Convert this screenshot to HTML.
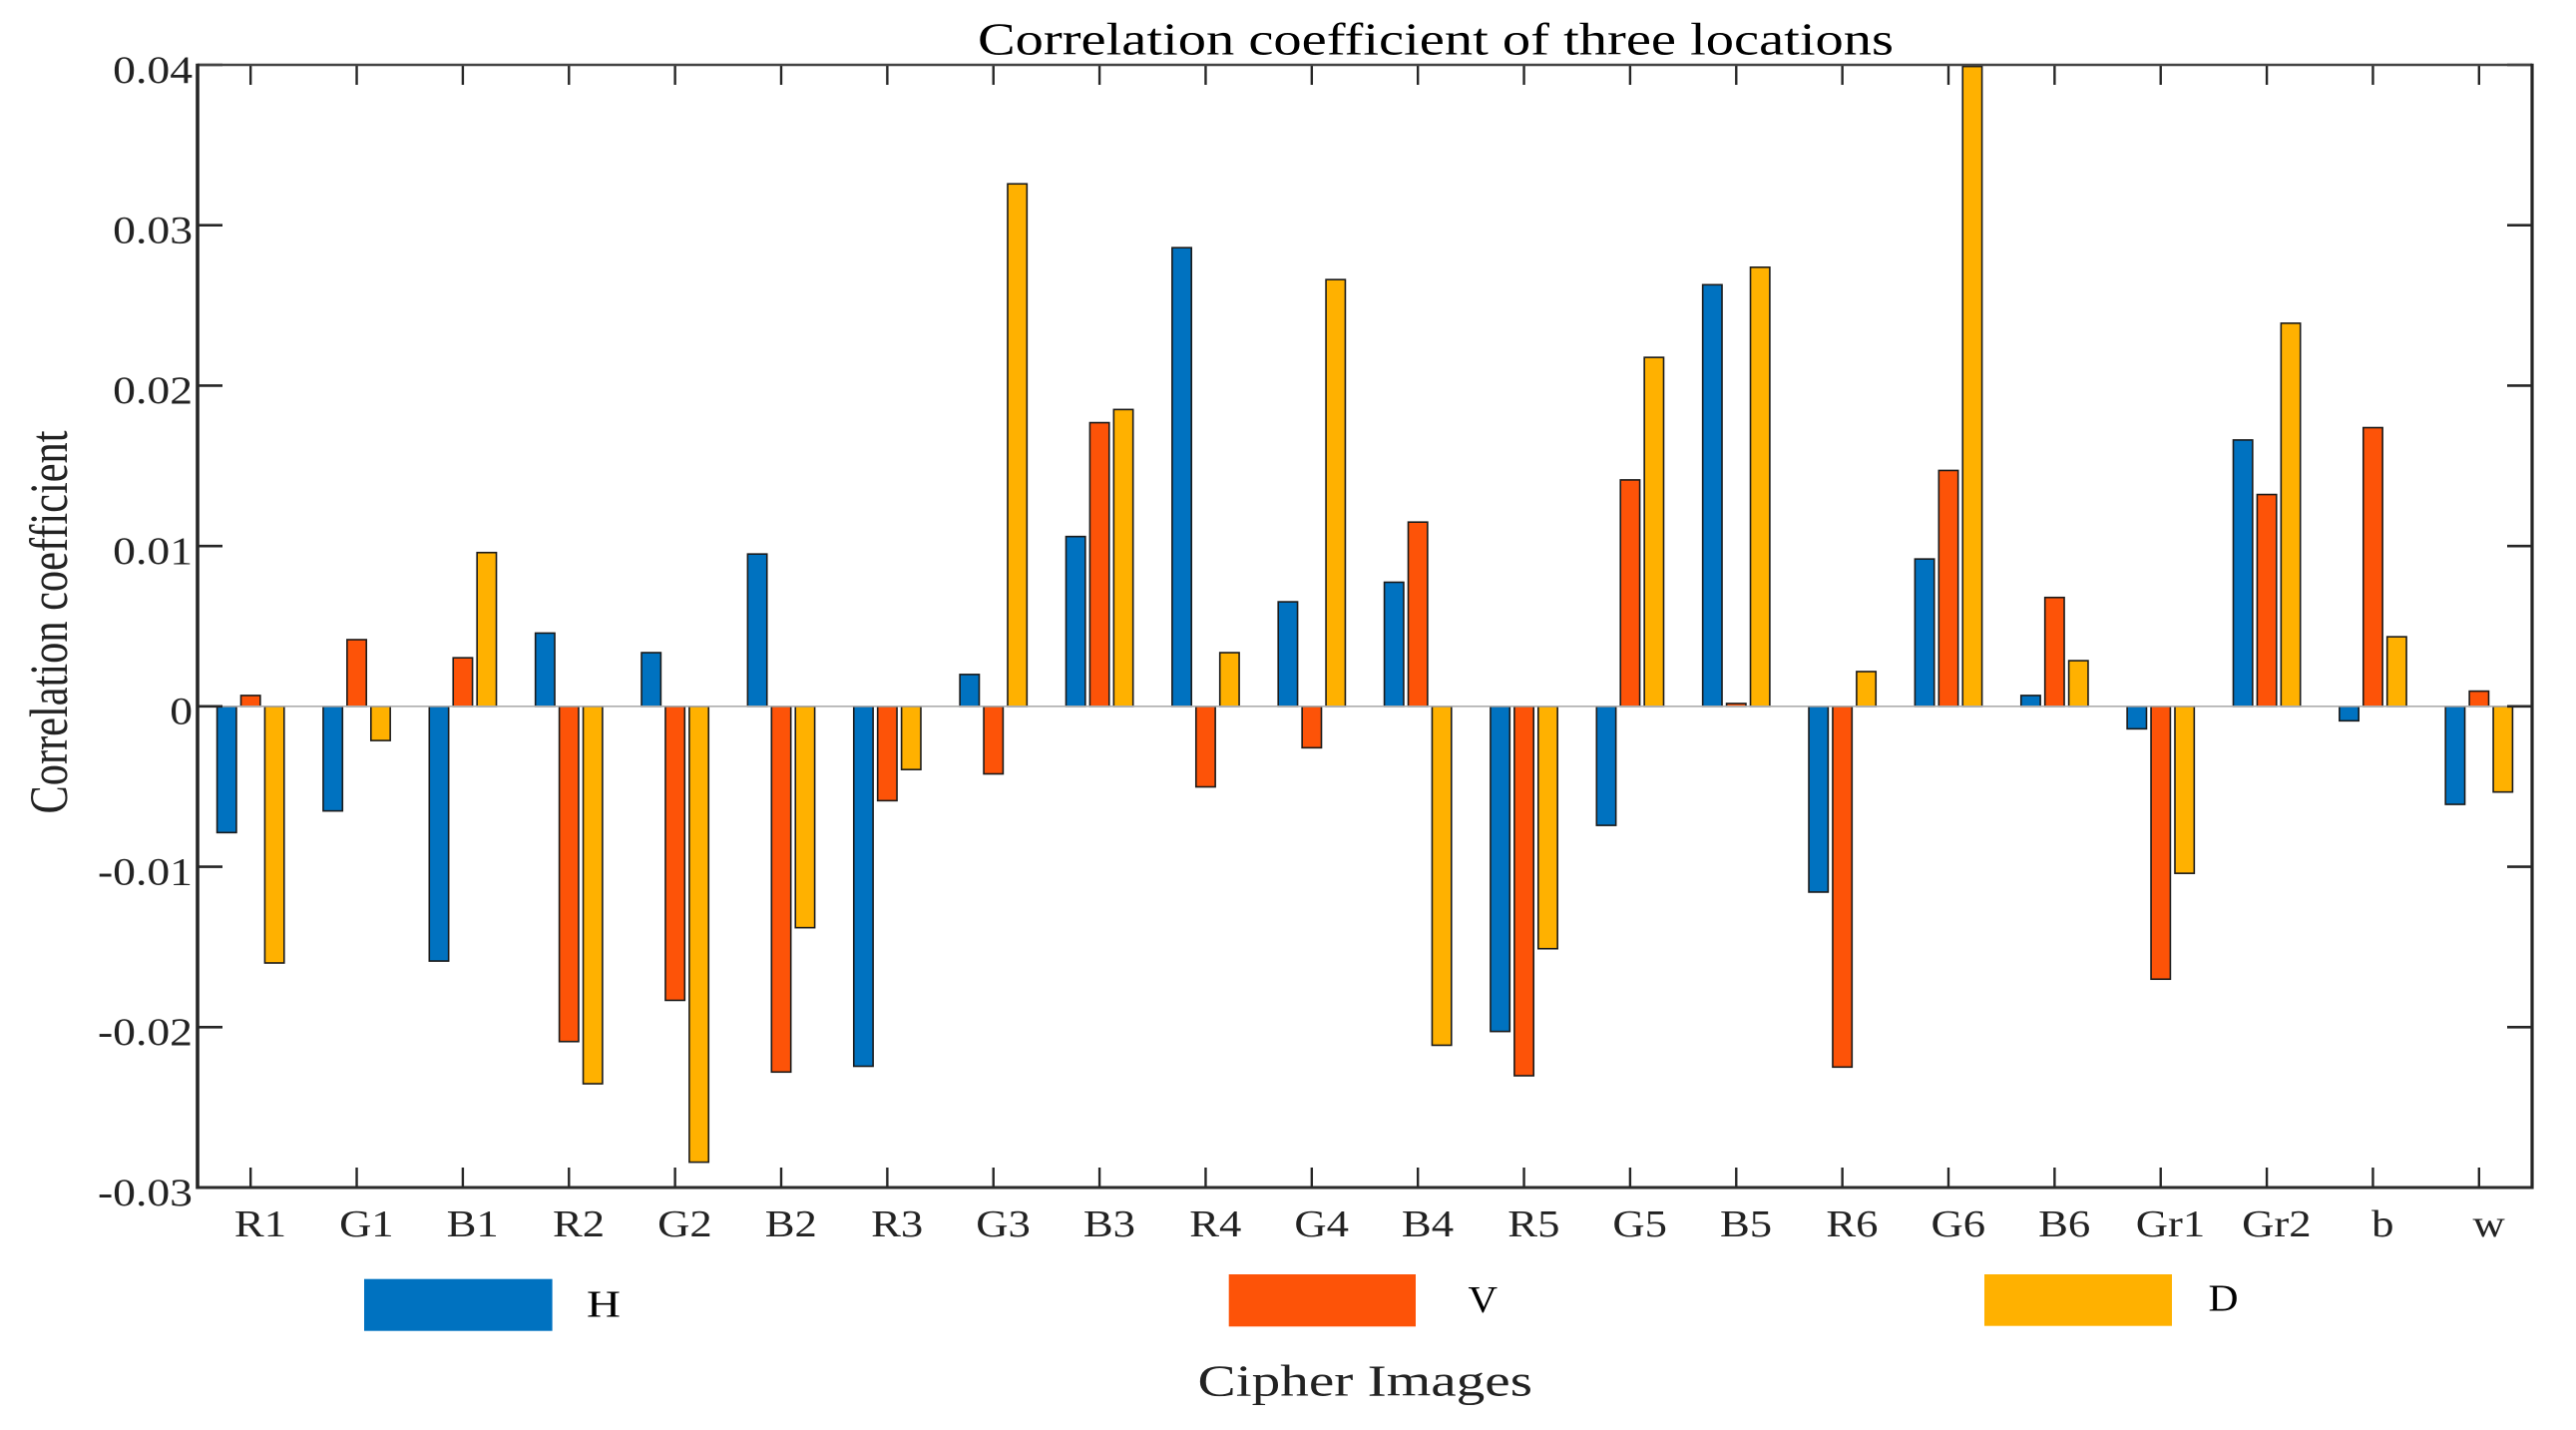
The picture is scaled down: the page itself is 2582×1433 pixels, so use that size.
<!DOCTYPE html>
<html lang="en">
<head>
<meta charset="utf-8">
<title>Correlation coefficient of three locations</title>
<style>
html,body{margin:0;padding:0;background:#fff;}
svg{display:block;}
text{font-family:"Liberation Serif",serif;}
</style>
</head>
<body>
<svg id="chart" xmlns="http://www.w3.org/2000/svg" width="2582" height="1433" viewBox="0 0 2582 1433">
  <rect x="0" y="0" width="2582" height="1433" fill="#ffffff"/>
  <text x="980" y="54.5" font-size="46" fill="#000" textLength="918" lengthAdjust="spacingAndGlyphs">Correlation coefficient of three locations</text>
  <text transform="translate(67,815.5) rotate(-90)" font-size="54" fill="#222" textLength="384" lengthAdjust="spacingAndGlyphs">Correlation coefficient</text>
  <text x="1200.5" y="1398.5" font-size="44" fill="#222" textLength="335.5" lengthAdjust="spacingAndGlyphs">Cipher Images</text>
  <g id="bars"></g>
  <g id="axes"></g>
  <g>
    <g>
      <rect x="365" y="1281.7" width="188.6" height="52" fill="#0072C0"/>
      <text x="588" y="1319.3" font-size="38" fill="#000" textLength="34" lengthAdjust="spacingAndGlyphs">H</text>
    </g>
    <g>
      <rect x="1231.7" y="1277" width="187.3" height="52.3" fill="#FD5308"/>
      <text x="1471.5" y="1315" font-size="38" fill="#000" textLength="29.5" lengthAdjust="spacingAndGlyphs">V</text>
    </g>
    <g>
      <rect x="1989" y="1277" width="188" height="51.7" fill="#FFB100"/>
      <text x="2213.5" y="1313.5" font-size="38" fill="#000" textLength="30" lengthAdjust="spacingAndGlyphs">D</text>
    </g>
  </g>
</svg>
<script>
const categories = ['R1','G1','B1','R2','G2','B2','R3','G3','B3','R4','G4','B4','R5','G5','B5','R6','G6','B6','Gr1','Gr2','b','w'];
const seriesH = [-0.00787,-0.00652,-0.01588,0.00457,0.00335,0.0095,-0.02244,0.00199,0.01059,0.0286,0.00652,0.00774,-0.02027,-0.00742,0.02629,-0.01158,0.00919,0.00068,-0.0014,0.01661,-0.0009,-0.00611];
const seriesV = [0.00068,0.00416,0.00303,-0.0209,-0.01833,-0.0228,-0.00588,-0.00421,0.01769,-0.00502,-0.00258,0.01149,-0.02303,0.01412,0.00018,-0.02249,0.01471,0.00679,-0.01701,0.01321,0.01738,0.00095];
const seriesD = [-0.016,-0.00213,0.00959,-0.02353,-0.02842,-0.0138,-0.00394,0.03258,0.01851,0.00335,0.02661,-0.02113,-0.01511,0.02176,0.02738,0.00217,0.0399,0.00285,-0.01041,0.02389,0.00434,-0.00534];
const yTickValues = [-0.03,-0.02,-0.01,0,0.01,0.02,0.03,0.04];
const yTickLabels = ['-0.03','-0.02','-0.01','0','0.01','0.02','0.03','0.04'];

const NS = 'http://www.w3.org/2000/svg';
const plot = {left: 198, right: 2538, top: 65, bottom: 1190};
const yMin = -0.03, yMax = 0.04;
const barColors = ['#0072C0', '#FD5308', '#FFB100'];
const barNames = ['h', 'v', 'd'];
const allSeries = [seriesH, seriesV, seriesD];

function xScale(index) {
  const step = (plot.right - plot.left) / categories.length;
  return plot.left + step * (index + 0.5);
}
function yScale(value) {
  return plot.bottom - (value - yMin) / (yMax - yMin) * (plot.bottom - plot.top);
}
function make(tag, attrs, parent) {
  const el = document.createElementNS(NS, tag);
  for (const key in attrs) el.setAttribute(key, attrs[key]);
  parent.appendChild(el);
  return el;
}

const barsGroup = document.getElementById('bars');
const axesGroup = document.getElementById('axes');
const barStep = (plot.right - plot.left) / categories.length * 0.225;
const barWidth = (plot.right - plot.left) / categories.length * 0.182;

allSeries.forEach(function (values, s) {
  values.forEach(function (value, i) {
    const cx = xScale(i) + (s - 1) * barStep;
    const y0 = yScale(0);
    const y1 = yScale(value);
    const bar = make('rect', {
      x: cx - barWidth / 2,
      y: Math.min(y0, y1),
      width: barWidth,
      height: Math.abs(y1 - y0),
      fill: barColors[s],
      stroke: '#1a1a1a',
      'stroke-width': 1.6
    }, barsGroup);
    
    
  });
});

const zeroLine = make('line', {x1: plot.left, x2: plot.right, y1: yScale(0), y2: yScale(0), stroke: '#aeaeae', 'stroke-width': 1.6}, axesGroup);



categories.forEach(function (name, i) {
  const x = xScale(i);
  const bottomTick = make('line', {x1: x, x2: x, y1: plot.bottom, y2: plot.bottom - 20, stroke: '#262626', 'stroke-width': 2.4}, axesGroup);
  
  
  const topTick = make('line', {x1: x, x2: x, y1: plot.top, y2: plot.top + 20, stroke: '#262626', 'stroke-width': 2.4}, axesGroup);
  
  
  const label = make('text', {
    transform: 'translate(' + (x + 9.8) + ',1239) scale(1.16,1)',
    'text-anchor': 'middle',
    'font-size': 38.5,
    fill: '#222'
  }, axesGroup);
  label.textContent = name;
  
  
});

yTickValues.forEach(function (value, i) {
  const y = yScale(value);
  const leftTick = make('line', {x1: plot.left, x2: plot.left + 25, y1: y, y2: y, stroke: '#262626', 'stroke-width': 2.6}, axesGroup);
  
  
  const rightTick = make('line', {x1: plot.right, x2: plot.right - 25, y1: y, y2: y, stroke: '#262626', 'stroke-width': 2.6}, axesGroup);
  
  
  const label = make('text', {
    transform: 'translate(193,' + (y + 17.8) + ') scale(1.17,1)',
    'text-anchor': 'end',
    'font-size': 39,
    fill: '#222'
  }, axesGroup);
  label.textContent = yTickLabels[i];
  
  
});

const axisTop = make('line', {x1: plot.left, x2: plot.right, y1: plot.top, y2: plot.top, stroke: '#444', 'stroke-width': 2.6}, axesGroup);


const axisBottom = make('line', {x1: plot.left, x2: plot.right, y1: plot.bottom, y2: plot.bottom, stroke: '#2a2a2a', 'stroke-width': 3}, axesGroup);


const axisLeft = make('line', {x1: plot.left, x2: plot.left, y1: plot.top - 1.3, y2: plot.bottom + 1.5, stroke: '#262626', 'stroke-width': 3.6}, axesGroup);


const axisRight = make('line', {x1: plot.right, x2: plot.right, y1: plot.top - 1.3, y2: plot.bottom + 1.5, stroke: '#262626', 'stroke-width': 3.2}, axesGroup);


</script>
</body>
</html>
